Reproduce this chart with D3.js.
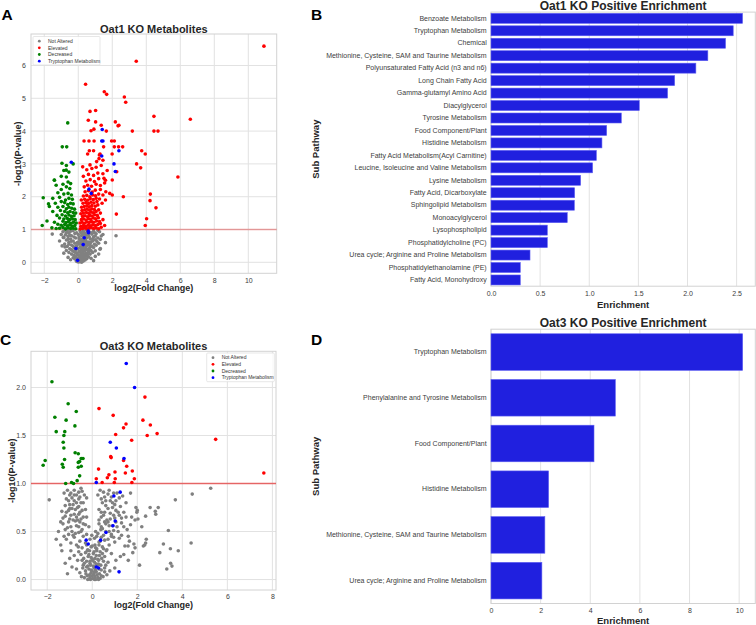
<!DOCTYPE html>
<html><head><meta charset="utf-8">
<script src="https://cdn.jsdelivr.net/npm/d3@7"></script>
<style>body{margin:0;background:#fff}svg{display:block;font-family:"Liberation Sans",Arial,sans-serif}</style>
</head><body><svg id="c" width="756" height="625"></svg>
<script>
// ---------------- DATA ----------------
const legendLabels = ["Not Altered","Elevated","Decreased","Tryptophan Metabolism"];
const groupColors = ["#808080","#ff0000","#008000","#0000ff"];

// Panel A: Oat1 KO volcano  [log2FC, -log10 p]
const oat1Gray = [
 [0.0,0.01],[0.1,0.02],[0.2,0.0],[-0.1,0.03],[0.3,0.04],[0.15,0.06],[-0.05,0.08],[0.25,0.09],[0.4,0.07],[-0.2,0.1],[0.05,0.12],[0.35,0.13],[0.5,0.11],[-0.3,0.14],[0.2,0.15],[0.6,0.16],[-0.15,0.17],[0.1,0.18],[0.45,0.19],[0.75,0.12],[-0.45,0.08],[0.9,0.05],[1.0,0.18],[-0.6,0.15],
 [-0.25,0.21],[0.0,0.22],[0.3,0.23],[0.55,0.22],[-0.4,0.25],[0.15,0.26],[0.42,0.27],[0.7,0.25],[-0.1,0.28],[0.25,0.3],[-0.55,0.3],[0.6,0.31],[0.85,0.3],[0.05,0.33],[-0.3,0.34],[0.38,0.35],[-0.7,0.36],[0.75,0.36],[-0.15,0.37],[0.18,0.38],[0.5,0.39],[1.0,0.35],[-0.85,0.28],[1.2,0.25],
 [-0.5,0.41],[0.0,0.42],[0.3,0.43],[0.65,0.42],[-0.25,0.45],[0.12,0.46],[0.45,0.47],[0.9,0.45],[-0.65,0.48],[0.8,0.49],[-0.1,0.5],[0.22,0.51],[0.55,0.52],[-0.4,0.53],[1.05,0.52],[0.05,0.55],[0.38,0.56],[-0.8,0.56],[0.7,0.57],[-0.2,0.58],[0.15,0.59],[1.2,0.58],[-0.95,0.5],[1.3,0.42],
 [-0.55,0.61],[0.0,0.62],[0.3,0.63],[0.6,0.62],[-0.3,0.65],[0.45,0.66],[0.85,0.65],[-0.7,0.68],[0.1,0.68],[1.0,0.69],[-0.45,0.71],[0.25,0.72],[0.7,0.71],[-0.15,0.74],[0.5,0.75],[1.15,0.74],[-0.85,0.76],[0.05,0.77],[0.9,0.78],[-0.6,0.79],[0.35,0.79],[1.3,0.7],
 [-0.4,0.81],[0.2,0.82],[0.6,0.83],[-0.75,0.84],[0.0,0.85],[0.8,0.86],[-0.2,0.88],[0.4,0.88],[1.05,0.87],[-0.55,0.9],[0.15,0.91],[0.65,0.92],[-0.9,0.93],[0.3,0.95],[0.9,0.95],[-0.3,0.96],[1.25,0.93],[0.5,0.97],[-0.65,0.97],
 [0.05,0.03],[0.25,0.05],[0.12,0.09],[-0.1,0.13],[0.3,0.17],[0.4,0.2],[-0.05,0.24],[0.2,0.21],[0.5,0.28],[-0.2,0.31],[0.1,0.32],[0.3,0.37],[-0.4,0.38],[0.6,0.36],[0.45,0.42],[-0.15,0.43],[0.2,0.45],[0.7,0.47],[-0.3,0.49],[0.35,0.5],[0.95,0.55],[-0.55,0.55],[0.5,0.6],[-0.05,0.6],[0.75,0.62],[-0.4,0.64],[0.2,0.65],[1.1,0.63],[-0.6,0.7],[0.4,0.7],[0.85,0.72],[-0.25,0.77],[0.65,0.77],[1.0,0.8],[-0.5,0.83],[0.45,0.84],[-0.1,0.9],[0.75,0.9],[1.15,0.97],[-0.8,0.98],[0.1,0.97],[0.55,0.93],[-0.45,0.95],[0.95,0.9],[-0.7,0.9],[0.3,0.88],[1.35,0.8],[-1.0,0.85],[0.05,0.72],[0.65,0.55],
 [-1.53,0.86],[2.22,0.81],[-0.88,0.76],[-0.78,0.47],[1.28,0.4],[1.6,0.6],[1.45,0.85],[-1.1,0.65]
];
const oat1Red = [
 [0.12,1.02],[0.25,1.03],[0.38,1.05],[0.5,1.02],[0.62,1.04],[0.75,1.06],[0.9,1.03],[1.05,1.05],[1.2,1.02],[1.35,1.07],
 [0.15,1.1],[0.3,1.12],[0.45,1.1],[0.58,1.13],[0.7,1.11],[0.85,1.14],[1.0,1.12],[1.15,1.15],[1.3,1.18],[1.55,1.12],
 [0.1,1.2],[0.22,1.22],[0.36,1.19],[0.5,1.23],[0.64,1.21],[0.78,1.24],[0.92,1.22],[1.08,1.26],[1.25,1.24],[1.45,1.3],
 [0.18,1.3],[0.32,1.32],[0.46,1.29],[0.6,1.33],[0.72,1.31],[0.88,1.35],[1.02,1.33],[1.18,1.36],[0.25,1.4],[0.4,1.42],
 [0.55,1.39],[0.68,1.43],[0.82,1.41],[0.97,1.45],[1.12,1.43],[0.15,1.48],[0.3,1.5],[0.48,1.52],[0.62,1.49],[0.76,1.53],
 [0.9,1.51],[1.05,1.55],[1.3,1.5],[0.22,1.58],[0.38,1.6],[0.52,1.62],[0.66,1.59],[0.8,1.63],[0.95,1.61],[1.2,1.6],
 [0.2,1.68],[0.35,1.7],[0.5,1.72],[0.65,1.69],[0.8,1.73],[1.0,1.71],[1.15,1.75],[0.28,1.8],[0.45,1.82],[0.6,1.79],[0.75,1.83],[0.92,1.81],[1.1,1.85],[1.4,1.8],[0.18,1.9],[0.38,1.92],[0.55,1.89],[0.7,1.94],[0.88,1.91],[1.05,1.95],[1.25,1.93],[1.6,1.9],[0.3,2.02],[0.5,2.04],[0.68,2.0],[0.85,2.05],[1.02,2.03],[1.2,2.08],[1.45,2.05],[0.4,2.15],[0.6,2.18],[0.82,2.14],[1.0,2.2],[1.3,2.22],[1.62,2.15],[1.85,2.1],
 [0.35,2.3],[0.55,2.35],[0.78,2.32],[1.05,2.38],[1.3,2.34],[1.55,2.42],[0.45,2.48],[0.7,2.52],[0.95,2.46],[1.2,2.55],[1.6,2.5],[0.3,2.62],[0.6,2.68],[0.9,2.65],[1.15,2.72],[1.45,2.7],[1.7,2.8],[0.5,2.82],[0.8,2.86],[1.05,2.9],[1.35,2.95],
 [3.41,6.13],[0.43,5.43],[1.53,5.2],[1.67,5.12],[2.71,5.04],[2.79,4.88],[0.69,4.6],[1.02,4.63],[0.59,4.33],[1.02,4.28],[2.18,4.28],[2.34,4.16],[2.39,4.18],[1.35,4.18],[0.92,4.06],[0.75,4.01],[1.65,4.0],[3.18,4.0],[4.45,4.45],[4.45,4.0],[4.69,4.0],[6.59,4.36],
 [0.34,3.7],[0.63,3.7],[0.93,3.7],[1.96,3.7],[2.12,3.7],[1.49,3.52],[2.12,3.52],[2.37,3.52],[2.61,3.52],[0.65,3.4],[0.9,3.4],[0.55,3.3],[1.28,3.3],[1.99,3.3],[3.73,3.4],[3.94,3.3],[1.22,3.16],
 [1.24,3.27],[0.26,2.91],[0.69,2.97],[1.08,3.07],[1.45,3.11],[3.43,3.0],[3.67,2.88],[2.26,2.76],[5.86,2.6],[4.24,2.08],[4.22,1.88],[4.57,1.66],[4.02,1.33],[3.94,1.12],[2.65,2.0],[2.24,1.47],[2.0,2.05],[2.0,2.51],[1.51,2.56],[10.92,6.59]
];
const oat1Green = [
 [-0.15,1.02],[-0.3,1.04],[-0.45,1.03],[-0.6,1.05],[-0.75,1.02],[-0.9,1.06],[-1.1,1.04],[-1.3,1.03],[-1.55,1.05],
 [-0.2,1.12],[-0.35,1.1],[-0.5,1.14],[-0.65,1.11],[-0.8,1.15],[-1.0,1.13],[-1.2,1.16],[-0.12,1.2],[-0.28,1.22],[-0.42,1.19],[-0.58,1.24],[-0.72,1.21],[-0.9,1.25],[-1.4,1.22],
 [-0.18,1.3],[-0.33,1.32],[-0.5,1.3],[-0.65,1.34],[-0.85,1.32],[-1.1,1.35],[-0.25,1.42],[-0.4,1.4],[-0.55,1.44],[-0.75,1.41],[-0.95,1.45],[-1.25,1.43],
 [-0.15,1.5],[-0.3,1.52],[-0.48,1.55],[-0.62,1.51],[-0.8,1.55],[-1.05,1.58],[-1.5,1.55],[-0.22,1.62],[-0.38,1.65],[-0.55,1.68],[-0.7,1.63],[-0.9,1.7],[-1.2,1.68],[-1.7,1.7],
 [-0.3,1.78],[-0.45,1.8],[-0.62,1.76],[-0.8,1.82],[-1.0,1.85],[-1.35,1.8],[-1.75,1.78],[-0.35,1.92],[-0.55,1.95],[-0.75,1.9],[-1.1,1.98],[-1.5,1.95],
 [-0.4,2.05],[-0.6,2.1],[-0.85,2.08],[-1.2,2.12],[-0.5,2.25],[-0.7,2.3],[-1.0,2.22],[-1.3,2.35],[-0.45,2.4],[-0.6,2.45],[-0.9,2.38],[-1.4,2.5],[-0.7,2.6],[-1.0,2.62],[-0.55,2.75],[-0.85,2.8],[-0.7,2.95],[-0.96,3.02],[-0.3,3.0],
 [-2.06,1.97],[-2.12,1.12],[-1.84,1.26],[-0.62,4.25],[-0.94,3.52],[-0.68,3.52],[-1.41,2.51],[-0.71,2.81]
];
const oat1Blue = [
 [1.41,4.05],[1.38,3.7],[1.45,3.7],[2.39,3.4],[1.38,3.24],[-0.41,3.05],[2.1,3.0],[2.18,2.77],[0.63,2.23],[0.76,2.1],
 [0.59,0.95],[0.6,0.9],[0.35,0.75],[0.29,0.54],[-0.14,0.42],[-0.04,0.06]
];

// Panel C: Oat3 KO volcano
const oat3Gray = [
 [0.02,0.01],[-0.1,0.02],[0.12,0.03],[-0.22,0.04],[0.25,0.02],[0.05,0.05],[-0.05,0.07],[0.18,0.08],[-0.3,0.09],[0.32,0.06],[-0.15,0.11],[0.08,0.12],[0.4,0.1],[-0.42,0.12],[0.22,0.14],[-0.08,0.15],[0.55,0.12],[-0.55,0.07],[0.65,0.05],[-0.7,0.11],[0.78,0.09],[-0.9,0.13],[1.0,0.12],[-1.1,0.06],[0.15,0.0],[-0.2,0.0],[0.35,0.01],[-0.35,0.02],[0.48,0.03],[-0.48,0.03],
 [-0.1,0.17],[0.1,0.18],[-0.25,0.19],[0.28,0.2],[0.0,0.21],[-0.38,0.22],[0.42,0.22],[-0.18,0.24],[0.18,0.25],[-0.5,0.26],[0.55,0.24],[0.05,0.27],[-0.3,0.28],[0.35,0.29],[-0.65,0.2],[0.7,0.18],[-0.8,0.25],[0.85,0.27],[-1.0,0.22],[1.05,0.2],[-1.2,0.17],[1.25,0.24],[-0.6,0.29],[0.62,0.3],[-0.95,0.3],[1.4,0.26],[-1.35,0.3],[1.6,0.2],[2.1,0.15],[1.8,0.28],
 [-0.2,0.31],[0.2,0.32],[-0.45,0.33],[0.45,0.34],[0.0,0.35],[-0.7,0.36],[0.75,0.36],[-0.3,0.38],[0.3,0.39],[-0.95,0.38],[1.0,0.39],[-0.55,0.4],[0.55,0.41],[-1.15,0.42],[1.2,0.43],[-0.1,0.42],[0.1,0.43],[-0.8,0.44],[0.85,0.45],[-1.4,0.36],[1.45,0.35],[-0.4,0.45],[0.4,0.44],[1.65,0.4],[2.4,0.42],[-1.6,0.42],[1.9,0.33],[0.65,0.31],[-0.62,0.34],
 [-0.25,0.47],[0.25,0.48],[-0.6,0.49],[0.6,0.5],[-0.9,0.5],[0.95,0.51],[-0.45,0.52],[0.45,0.53],[-1.1,0.54],[1.1,0.55],[-0.7,0.56],[0.75,0.56],[-0.3,0.57],[0.3,0.58],[-1.3,0.58],[1.3,0.59],[-0.55,0.6],[0.55,0.6],[-0.85,0.46],[0.85,0.47],[1.55,0.52],[-1.5,0.5],[1.7,0.57],[2.2,0.55],[-0.15,0.55],[0.15,0.5],
 [-0.65,0.62],[0.65,0.62],[-1.0,0.63],[1.0,0.64],[-0.4,0.65],[0.4,0.65],[-1.2,0.66],[1.2,0.67],[-0.8,0.68],[0.8,0.69],[-0.55,0.7],[0.55,0.7],[-1.05,0.72],[1.05,0.72],[-0.3,0.73],[0.3,0.73],[-0.9,0.74],[0.9,0.75],[1.4,0.7],[-1.35,0.71],[1.75,0.65],[2.0,0.72],[-0.75,0.61],[0.7,0.6],
 [-0.6,0.76],[0.6,0.77],[-1.0,0.78],[1.0,0.78],[-0.4,0.8],[0.45,0.8],[-0.8,0.82],[0.8,0.82],[-1.15,0.84],[1.2,0.85],[-0.55,0.86],[0.55,0.86],[-0.7,0.88],[0.7,0.89],[-0.95,0.9],[0.95,0.9],[-0.45,0.92],[0.35,0.93],[1.35,0.87],[-1.1,0.93],[1.7,0.9],[1.5,0.8],[-0.25,0.85],[0.25,0.88],
 [-0.05,0.1],[0.1,0.08],[-0.2,0.14],[0.28,0.16],[-0.12,0.3],[0.12,0.36],[-0.02,0.46],[0.38,0.52],
 [0.0,0.04],[0.08,0.06],[-0.12,0.05],[0.22,0.05],[-0.02,0.09],[0.14,0.1],[0.3,0.11],[-0.25,0.13],[0.05,0.14],[0.18,0.16],[0.38,0.15],[-0.1,0.19],[0.02,0.2],[0.25,0.21],[-0.05,0.23],[0.12,0.22],[0.32,0.25],[-0.15,0.26],[0.45,0.27],[0.08,0.29],[-0.22,0.3],[0.2,0.3],[0.5,0.19],[-0.35,0.17],[0.6,0.15],[-0.45,0.2],[0.1,0.0],[-0.08,0.0],[0.28,0.0],[0.4,0.04],[-0.28,0.06],[0.55,0.08],[-0.4,0.15],[0.15,0.33],[-0.05,0.34],[0.3,0.36],[-0.25,0.36],[0.5,0.32],
 [-1.25,0.45],[-1.05,0.47],[-0.75,0.48],[-0.5,0.5],[-1.2,0.52],[-0.95,0.55],[-0.6,0.55],[-0.4,0.58],[-1.05,0.6],[-0.85,0.62],[-0.5,0.63],[-1.3,0.64],[-0.7,0.65],[-0.95,0.67],[-0.6,0.68],[-1.15,0.7],[-0.45,0.72],[-0.75,0.73],[-1.0,0.74],[-0.65,0.75],[-1.2,0.77],[-0.85,0.78],[-0.5,0.8],[-0.7,0.8],[-1.05,0.82],[-0.6,0.84],[-0.9,0.85],[-0.8,0.88],[-1.0,0.88],[-0.6,0.91],[-0.8,0.93],[-0.5,0.95],[-1.25,0.9],[-0.35,0.88],[-1.4,0.6],[-0.25,0.65],
 [0.35,0.4],[0.7,0.42],[0.95,0.44],[1.3,0.46],[0.5,0.46],[0.75,0.5],[1.15,0.5],[0.4,0.55],[0.9,0.56],[1.4,0.55],[0.6,0.58],[1.05,0.6],[0.3,0.62],[0.8,0.63],[1.3,0.64],[0.5,0.67],[0.95,0.67],[1.15,0.7],[0.4,0.7],[0.7,0.74],[1.25,0.76],[0.9,0.8],[0.6,0.82],[1.05,0.82],[0.4,0.84],[0.85,0.86],[1.1,0.9],[0.5,0.91],[0.75,0.93],[1.5,0.65],[1.6,0.45],[0.2,0.45],
 [-1.91,0.83],[5.26,0.95],[4.44,0.89],[3.69,0.83],[2.93,0.75],[2.8,0.71],[2.82,0.68],[2.37,0.66],[3.38,0.51],[4.39,0.38],[2.37,0.38],[2.27,0.35],[3.16,0.37],[3.47,0.32],[3.82,0.3],[3.0,0.28],[3.48,0.17],[3.54,0.14],[3.31,0.11],[1.94,0.75],[1.98,0.7],[1.9,0.62],[2.57,0.75],[2.03,0.63],[1.85,0.37],[2.33,0.36],[1.59,0.35]
];
const oat3Red = [
 [0.3,1.78],[0.93,1.71],[1.5,1.62],[1.39,1.58],[1.04,1.51],[1.75,1.45],[2.34,1.9],[2.25,1.66],[2.58,1.61],[2.44,1.5],[2.88,1.52],
 [0.82,1.28],[0.84,1.27],[1.39,1.24],[0.28,1.15],[1.53,1.18],[1.78,1.13],[1.01,1.12],[1.47,1.11],[0.74,1.09],[0.67,1.06],[1.02,1.05],[1.87,1.05],[0.18,1.05],[0.44,1.01],[0.98,1.01],[1.76,1.01],
 [5.48,1.46],[7.62,1.11]
];
const oat3Green = [
 [-1.79,2.06],[-1.07,1.83],[-0.71,1.75],[-1.66,1.69],[-1.16,1.66],[-0.77,1.6],[-1.6,1.54],[-1.22,1.54],[-1.26,1.5],[-1.29,1.43],[-1.26,1.37],[-0.76,1.32],[-0.62,1.31],
 [-0.41,1.26],[-0.49,1.26],[-0.56,1.23],[-0.62,1.22],[-1.23,1.25],[-2.09,1.24],[-2.18,1.19],[-1.33,1.2],[-1.29,1.17],[-0.49,1.18],[-0.62,1.17],[-0.56,1.08],[-0.67,1.03],[-0.92,1.01],[-0.83,1.0],[-1.18,1.0]
];
const oat3Blue = [
 [1.51,2.25],[1.88,2.0],[0.8,1.43],[1.07,1.37],[1.41,1.26],[0.18,1.01],[1.24,0.91],[0.96,0.87],[1.02,0.61],[0.92,0.56],[0.61,0.49],[-0.27,0.41],[-0.18,0.37],[0.37,0.41],[0.18,0.13],[0.28,0.12],[1.19,0.08]
];

// Panel B: Oat1 KO enrichment
const oat1Pathways = ["Benzoate Metabolism","Tryptophan Metabolism","Chemical","Methionine, Cysteine, SAM and Taurine Metabolism","Polyunsaturated Fatty Acid (n3 and n6)","Long Chain Fatty Acid","Gamma-glutamyl Amino Acid","Diacylglycerol","Tyrosine Metabolism","Food Component/Plant","Histidine Metabolism","Fatty Acid Metabolism(Acyl Carnitine)","Leucine, Isoleucine and Valine Metabolism","Lysine Metabolism","Fatty Acid, Dicarboxylate","Sphingolipid Metabolism","Monoacylglycerol","Lysophospholipid","Phosphatidylcholine (PC)","Urea cycle; Arginine and Proline Metabolism","Phosphatidylethanolamine (PE)","Fatty Acid, Monohydroxy"];
const oat1Enrichment = [2.56,2.465,2.387,2.207,2.085,1.869,1.797,1.509,1.326,1.177,1.129,1.072,1.034,0.912,0.851,0.848,0.776,0.573,0.573,0.397,0.298,0.298];

// Panel D: Oat3 KO enrichment
const oat3Pathways = ["Tryptophan Metabolism","Phenylalanine and Tyrosine Metabolism","Food Component/Plant","Histidine Metabolism","Methionine, Cysteine, SAM and Taurine Metabolism","Urea cycle; Arginine and Proline Metabolism"];
const oat3Enrichment = [10.14,5.01,4.15,2.32,2.17,2.05];

// tick labels
const oat1XTicks = [-2,0,2,4,6,8,10], oat1YTicks = [0,1,2,3,4,5,6];
const oat3XTicks = [-2,0,2,4,6,8],   oat3YTicks = [0,0.5,1.0,1.5,2.0];
const oat1EnrTicks = [0,0.5,1.0,1.5,2.0,2.5];
const oat3EnrTicks = [0,2,4,6,8,10];

// ---------------- DRAW ----------------
const svg = d3.select("#c");
const GRID = "#e2e2e2", SPINE = "#d2d2d2", TXT = "#262626", TICK = "#404040";
const FONT = "'Liberation Sans', Arial, sans-serif";

function styleTicks(sel){
  sel.select(".domain").remove();
  sel.selectAll("text").attr("font-size",7).attr("fill",TICK).attr("font-family",FONT);
}

function volcano(cfg){
  const x = d3.scaleLinear().domain(cfg.xDomain).range([cfg.left,cfg.right]);
  const y = d3.scaleLinear().domain(cfg.yDomain).range([cfg.bottom,cfg.top]);
  const g = svg.append("g");
  g.append("g").selectAll("line").data(cfg.xTicks).join("line")
    .attr("x1",d=>x(d)).attr("x2",d=>x(d)).attr("y1",cfg.top).attr("y2",cfg.bottom)
    .attr("stroke",GRID).attr("stroke-width",1);
  g.append("g").selectAll("line").data(cfg.yTicks).join("line")
    .attr("y1",d=>y(d)).attr("y2",d=>y(d)).attr("x1",cfg.left).attr("x2",cfg.right)
    .attr("stroke",GRID).attr("stroke-width",1);
  g.append("rect").attr("x",cfg.left).attr("y",cfg.top)
    .attr("width",cfg.right-cfg.left).attr("height",cfg.bottom-cfg.top)
    .attr("fill","none").attr("stroke",SPINE);
  g.append("g").attr("transform",`translate(0,${cfg.bottom})`)
    .call(d3.axisBottom(x).tickValues(cfg.xTicks).tickSize(0).tickPadding(4.5).tickFormat(cfg.xFmt))
    .call(styleTicks);
  g.append("g").attr("transform",`translate(${cfg.left},0)`)
    .call(d3.axisLeft(y).tickValues(cfg.yTicks).tickSize(0).tickPadding(5).tickFormat(cfg.yFmt))
    .call(styleTicks);
  // threshold line
  g.append("line").attr("x1",cfg.left).attr("x2",cfg.right).attr("y1",y(1)).attr("y2",y(1))
    .attr("stroke",cfg.lineColor).attr("stroke-width",cfg.lineWidth);
  // points
  cfg.groups.forEach((pts,i)=>{
    g.append("g").selectAll("circle").data(pts).join("circle")
      .attr("cx",d=>x(d[0])).attr("cy",d=>y(d[1])).attr("r",1.8)
      .attr("fill",groupColors[i]);
  });
  // legend
  const L = cfg.legend;
  const lg = g.append("g");
  lg.append("rect").attr("x",L.x).attr("y",L.y).attr("width",L.w).attr("height",L.h)
    .attr("fill","#fff").attr("fill-opacity",0.85).attr("stroke","#dcdcdc").attr("stroke-width",0.7).attr("rx",1);
  legendLabels.forEach((t,i)=>{
    const cy = L.y + 4.7 + i*6.65;
    lg.append("circle").attr("cx",L.x+6.3).attr("cy",cy).attr("r",1.4).attr("fill",groupColors[i]);
    lg.append("text").attr("x",L.x+15).attr("y",cy).attr("dy","0.35em")
      .attr("font-size",5).attr("fill","#333").attr("font-family",FONT).text(t);
  });
  // title & labels
  g.append("text").attr("x",(cfg.left+cfg.right)/2).attr("y",cfg.titleY).attr("text-anchor","middle")
    .attr("font-size",11).attr("font-weight","bold").attr("fill",TXT).text(cfg.title);
  g.append("text").attr("x",(cfg.left+cfg.right)/2).attr("y",cfg.xLabelY).attr("text-anchor","middle")
    .attr("font-size",9).attr("font-weight","bold").attr("fill",TXT).text("log2(Fold Change)");
  g.append("text").attr("transform",`translate(${cfg.yLabelX},${(cfg.top+cfg.bottom)/2}) rotate(-90)`)
    .attr("text-anchor","middle").attr("font-size",9).attr("font-weight","bold").attr("fill",TXT)
    .text("-log10(P-value)");
  g.append("text").attr("x",cfg.letterX).attr("y",cfg.letterY).attr("font-size",15.5)
    .attr("font-weight","bold").attr("fill","#000").text(cfg.letter);
}

function barh(cfg){
  const x = d3.scaleLinear().domain([0,cfg.xMax]).range([cfg.left,cfg.right]);
  const y = d3.scaleBand().domain(cfg.cats).range([cfg.top,cfg.bottom]).paddingInner(0.2).paddingOuter(0.1);
  const g = svg.append("g");
  g.append("g").selectAll("line").data(cfg.xTicks).join("line")
    .attr("x1",d=>x(d)).attr("x2",d=>x(d)).attr("y1",cfg.top).attr("y2",cfg.bottom)
    .attr("stroke",GRID).attr("stroke-width",1);
  g.append("rect").attr("x",cfg.left).attr("y",cfg.top)
    .attr("width",cfg.right-cfg.left).attr("height",cfg.bottom-cfg.top)
    .attr("fill","none").attr("stroke",SPINE);
  g.append("g").selectAll("rect").data(cfg.vals).join("rect")
    .attr("x",x(0)).attr("y",(d,i)=>y(cfg.cats[i]))
    .attr("width",d=>x(d)-x(0)).attr("height",y.bandwidth())
    .attr("fill","#2020df").attr("stroke","#5c5cf2").attr("stroke-width",0.6);
  g.append("g").attr("transform",`translate(0,${cfg.bottom})`)
    .call(d3.axisBottom(x).tickValues(cfg.xTicks).tickSize(0).tickPadding(5).tickFormat(cfg.xFmt))
    .call(styleTicks);
  g.append("g").attr("transform",`translate(${cfg.left},0)`)
    .call(d3.axisLeft(y).tickSize(0).tickPadding(4.3))
    .call(styleTicks);
  g.append("text").attr("x",(cfg.left+cfg.right)/2).attr("y",cfg.titleY).attr("text-anchor","middle")
    .attr("font-size",12).attr("font-weight","bold").attr("fill",TXT).text(cfg.title);
  g.append("text").attr("x",(cfg.left+cfg.right)/2).attr("y",cfg.xLabelY).attr("text-anchor","middle")
    .attr("font-size",9.5).attr("font-weight","bold").attr("fill",TXT).text("Enrichment");
  g.append("text").attr("transform",`translate(318.5,${(cfg.top+cfg.bottom)/2}) rotate(-90)`)
    .attr("text-anchor","middle").attr("font-size",9.5).attr("font-weight","bold").attr("fill",TXT)
    .text("Sub Pathway");
  g.append("text").attr("x",311).attr("y",cfg.letterY).attr("font-size",15.5)
    .attr("font-weight","bold").attr("fill","#000").text(cfg.letter);
}

volcano({
  left:31, right:276.7, top:34, bottom:273.3,
  xDomain:[-2.78,11.67], yDomain:[-0.335,6.96],
  xTicks:oat1XTicks, yTicks:oat1YTicks, xFmt:d3.format("d"), yFmt:d3.format("d"),
  groups:[oat1Gray,oat1Red,oat1Green,oat1Blue],
  lineColor:"rgba(225,90,90,0.55)", lineWidth:1.5,
  legend:{x:33,y:36.5,w:67,h:28.5},
  title:"Oat1 KO Metabolites", titleY:33, xLabelY:291, yLabelX:20.5,
  letter:"A", letterX:1.5, letterY:20
});
volcano({
  left:31, right:276, top:351.3, bottom:590,
  xDomain:[-2.72,8.16], yDomain:[-0.109,2.377],
  xTicks:oat3XTicks, yTicks:oat3YTicks, xFmt:d3.format("d"), yFmt:d3.format(".1f"),
  groups:[oat3Gray,oat3Red,oat3Green,oat3Blue],
  lineColor:"rgba(230,70,70,0.8)", lineWidth:1.6,
  legend:{x:206.7,y:353,w:67.6,h:28.7},
  title:"Oat3 KO Metabolites", titleY:350, xLabelY:608, yLabelX:14.5,
  letter:"C", letterX:0, letterY:345
});
barh({
  left:491, right:755.3, top:12.1, bottom:286.2, xMax:2.69,
  cats:oat1Pathways, vals:oat1Enrichment, xTicks:oat1EnrTicks, xFmt:d3.format(".1f"),
  title:"Oat1 KO Positive Enrichment", titleY:9.5, xLabelY:307.5, letter:"B", letterY:19.5
});
barh({
  left:491, right:755.3, top:329.2, bottom:603.5, xMax:10.65,
  cats:oat3Pathways, vals:oat3Enrichment, xTicks:oat3EnrTicks, xFmt:d3.format("d"),
  title:"Oat3 KO Positive Enrichment", titleY:326.5, xLabelY:624, letter:"D", letterY:345
});
</script></body></html>
